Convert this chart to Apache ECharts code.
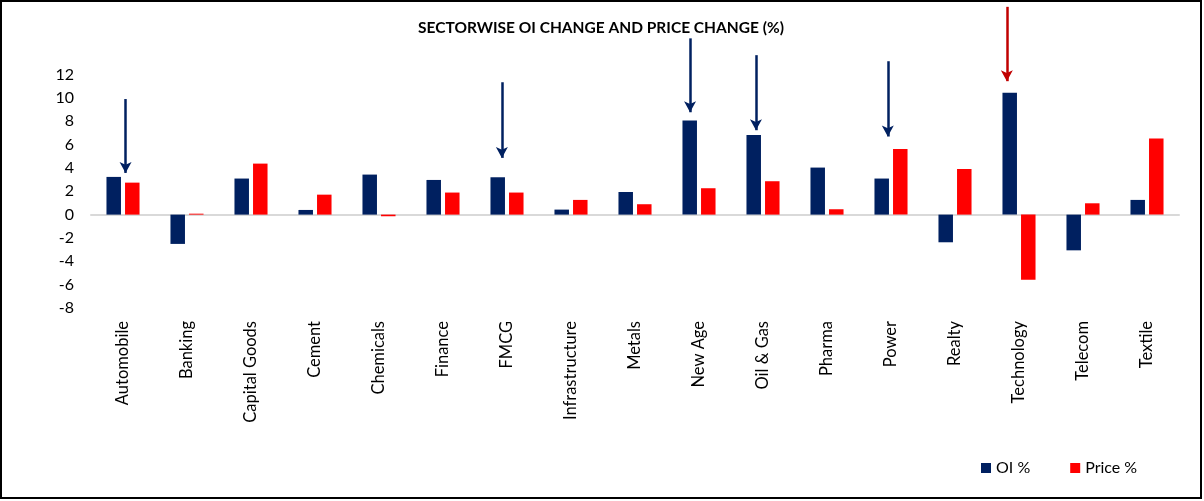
<!DOCTYPE html>
<html>
<head>
<meta charset="utf-8">
<script src="https://cdn.jsdelivr.net/npm/echarts@6/dist/echarts.min.js"></script>
<style>
html,body{margin:0;padding:0;background:#fff;}
#wrap{position:absolute;left:0;top:0;width:1198px;height:495px;border:2px solid #000;}
#chart{width:1198px;height:495px;}
</style>
</head>
<body>
<div id="wrap"><div id="chart"></div></div>
<script>
const categories = ['Automobile','Banking','Capital Goods','Cement','Chemicals','Finance','FMCG','Infrastructure','Metals','New Age','Oil & Gas','Pharma','Power','Realty','Technology','Telecom','Textile'];
const oiPct = [3.23, -2.51, 3.09, 0.40, 3.43, 2.97, 3.20, 0.43, 1.94, 8.06, 6.83, 4.03, 3.09, -2.37, 10.43, -3.06, 1.26];
const pricePct = [2.74, 0.08, 4.37, 1.71, -0.14, 1.89, 1.89, 1.26, 0.89, 2.26, 2.86, 0.46, 5.63, 3.91, -5.57, 0.97, 6.51];
// annotation arrows: position in category units (0 = Automobile), start value, tip value, colour
const arrowPos = [0.04, 5.92, 8.86, 9.89, 11.95, 13.81];
const arrowFrom = [9.9, 11.34, 15.1, 13.66, 13.14, 17.8];
const arrowTo = [3.57, 4.86, 8.77, 7.23, 6.69, 11.43];
const arrowColors = ['#002060','#002060','#002060','#002060','#002060','#C00000'];
const yTicksShownMax = 12;

const FONT = 'Lato';
const chart = echarts.init(document.getElementById('chart'));
const arrowData = arrowPos.map((p, i) => [
  {coord: [p, arrowFrom[i]], lineStyle: {color: arrowColors[i], width: 2.5, type: 'solid'}, itemStyle: {color: arrowColors[i]}},
  {coord: [p, arrowTo[i]], itemStyle: {color: arrowColors[i]}}
]);
chart.setOption({
  animation: false,
  title: {
    text: 'SECTORWISE OI CHANGE AND PRICE CHANGE (%)',
    left: 'center', top: 13,
    textStyle: {fontFamily: FONT, fontWeight: 'bold', fontSize: 15.5, color: '#000'}
  },
  legend: {
    left: 974, top: 453, icon: 'rect',
    itemWidth: 10, itemHeight: 10, itemGap: 40,
    textStyle: {fontFamily: FONT, fontSize: 16, color: '#000'},
    data: ['OI %','Price %']
  },
  grid: {left: 89, right: 21, top: 2.5, height: 303.5, containLabel: false},
  xAxis: [{
    type: 'category', data: categories, position: 'bottom',
    axisLine: {show: false, onZero: false},
    axisTick: {show: false},
    axisLabel: {rotate: 90, margin: 13, fontFamily: FONT, fontSize: 16.5, color: '#000', interval: 0}
  }, {
    type: 'category', data: categories,
    axisLine: {show: true, onZero: true, lineStyle: {color: '#d9d9d9', width: 2}},
    axisTick: {show: false}, axisLabel: {show: false}
  }, {
    type: 'value', min: -0.5, max: categories.length - 0.5, show: false
  }],
  yAxis: {
    type: 'value', min: -8, max: 18, interval: 2,
    axisLine: {show: false}, axisTick: {show: false}, splitLine: {show: false},
    axisLabel: {
      margin: 17, fontFamily: FONT, fontSize: 16, color: '#000',
      formatter: v => (v > yTicksShownMax ? '' : String(v))
    }
  },
  series: [{
    name: 'OI %', type: 'bar', data: oiPct, barWidth: 14.5, barGap: '28%',
    itemStyle: {color: '#002060'}
  }, {
    name: 'Price %', type: 'bar', data: pricePct, barWidth: 14.5,
    itemStyle: {color: '#FF0000'}
  }, {
    name: 'arrows', type: 'line', xAxisIndex: 2, data: [], silent: true,
    markLine: {
      silent: true, symbol: ['none', 'arrow'], symbolSize: [9, 11],
      label: {show: false},
      data: arrowData
    }
  }]
});
</script>
</body>
</html>
